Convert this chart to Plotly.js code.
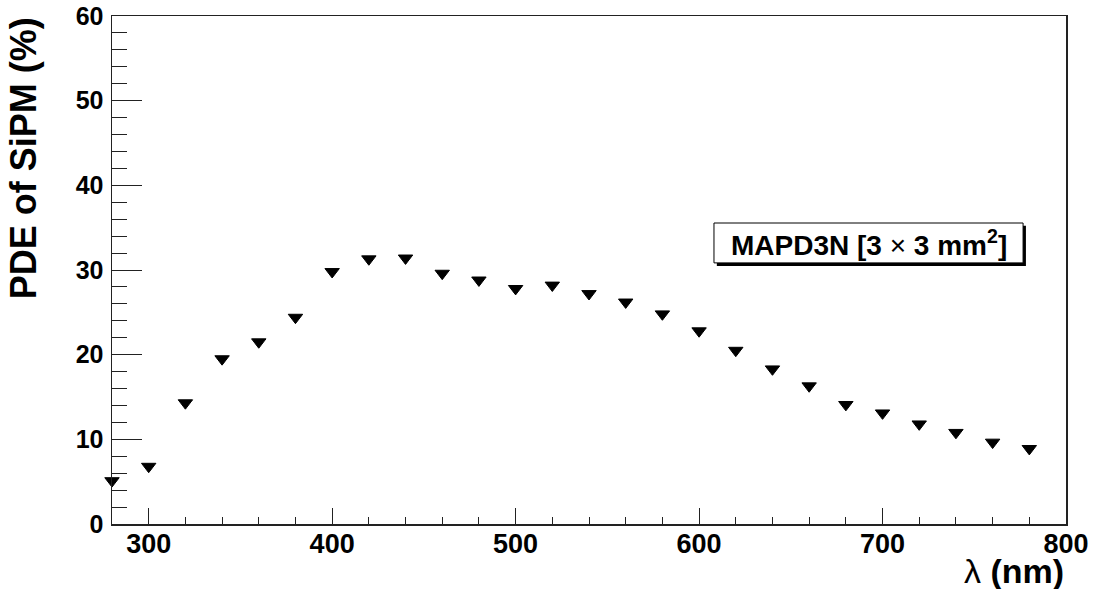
<!DOCTYPE html>
<html>
<head>
<meta charset="utf-8">
<script src="https://cdn.plot.ly/plotly-3.0.1.min.js"></script>
<style>html,body{margin:0;padding:0;background:#fff;}#chart{width:1094px;height:589px;}</style>
</head>
<body>
<div id="chart"></div>
<script>
const wavelength = [280,300,320,340,360,380,400,420,440,460,480,500,520,540,560,580,600,620,640,660,680,700,720,740,760,780];
const pde = [5.1,6.8,14.3,19.5,21.5,24.4,29.8,31.3,31.4,29.6,28.8,27.8,28.2,27.2,26.2,24.8,22.8,20.5,18.3,16.3,14.1,13.1,11.8,10.8,9.65,8.9];
const xTitle = 'λ <b>(nm)</b>';
const yTitle = 'PDE of SiPM (%)';
const labelText = '<b>MAPD3N [3</b> × <b>3 mm<sup>2</sup>]</b>';

const font = 'Liberation Sans, Arial, sans-serif';

const trace = {
  x: wavelength, y: pde, type: 'scatter', mode: 'markers', cliponaxis: false,
  marker: {symbol: 'triangle-down', size: 12.5, color: '#000', line: {color: '#000', width: 1}},
  hoverinfo: 'skip'
};

const layout = {
  width: 1094, height: 589,
  margin: {l: 112, r: 28, t: 16, b: 65, pad: 0},
  paper_bgcolor: '#fff', plot_bgcolor: '#fff',
  showlegend: false,
  font: {family: font, color: '#000'},
  xaxis: {
    range: [280, 800], tick0: 300, dtick: 100,
    ticks: 'inside', ticklen: 16, tickwidth: 1, tickcolor: '#222',
    minor: {dtick: 20, tick0: 280, ticks: 'inside', ticklen: 7, tickwidth: 1, tickcolor: '#222', showgrid: false},
    showline: true, linecolor: '#222', linewidth: 1.5, mirror: true,
    showgrid: false, zeroline: false,
    tickfont: {family: font, size: 27, weight: 'bold', color: '#000'},
    ticklabelstandoff: -5
  },
  yaxis: {
    range: [0, 60], tick0: 0, dtick: 10,
    ticks: 'inside', ticklen: 30, tickwidth: 1, tickcolor: '#222',
    minor: {dtick: 2, tick0: 0, ticks: 'inside', ticklen: 15, tickwidth: 1, tickcolor: '#222', showgrid: false},
    showline: true, linecolor: '#222', linewidth: 1.5, mirror: true,
    showgrid: false, zeroline: false,
    tickfont: {family: font, size: 25, weight: 'bold', color: '#000'},
    ticklabelstandoff: 2
  },
  shapes: [
    {type: 'rect', xref: 'paper', yref: 'paper', x0: 0.634, x1: 0.958, y0: 0.508, y1: 0.587,
     fillcolor: '#000', line: {width: 0}},
    {type: 'rect', xref: 'paper', yref: 'paper', x0: 0.631, x1: 0.955, y0: 0.514, y1: 0.5925,
     fillcolor: '#fff', line: {color: '#000', width: 1}}
  ],
  annotations: [
    {text: labelText, xref: 'paper', yref: 'paper', x: 0.793, y: 0.553, xanchor: 'center', yanchor: 'middle',
     showarrow: false, font: {family: font, size: 28, color: '#000'}},
    {text: '<b>' + yTitle + '</b>', xref: 'paper', yref: 'paper', x: -0.0925, y: 0.7195, xanchor: 'center', yanchor: 'middle',
     textangle: -90, showarrow: false, font: {family: font, size: 36, color: '#000'}},
    {text: xTitle, xref: 'paper', yref: 'paper', x: 1.0, y: -0.0925, xanchor: 'right', yanchor: 'middle',
     showarrow: false, font: {family: font, size: 34, color: '#000'}}
  ]
};

Plotly.newPlot('chart', [trace], layout, {staticPlot: true, displayModeBar: false});
</script>
</body>
</html>
